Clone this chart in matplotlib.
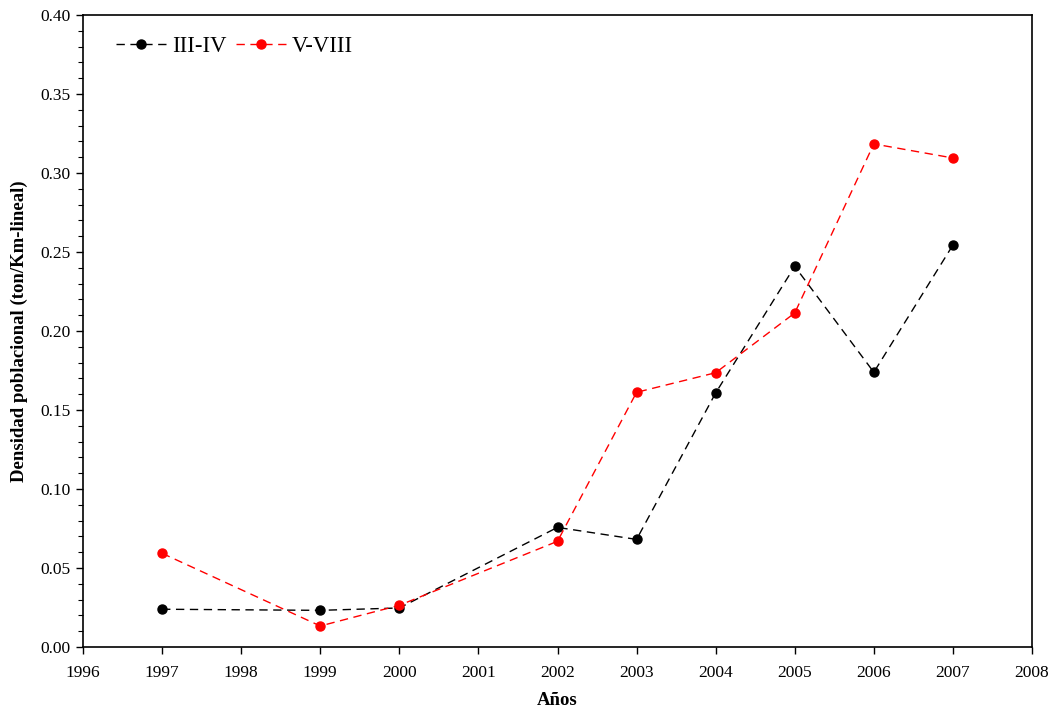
import matplotlib
matplotlib.use("Agg")
import matplotlib.pyplot as plt
from matplotlib.ticker import MultipleLocator

years_34 = [1997, 1999, 2000, 2002, 2003, 2004, 2005, 2006, 2007]
dens_34 = [0.0239, 0.0232, 0.0247, 0.0757, 0.0681, 0.1608, 0.2409, 0.1739, 0.2544]
years_58 = [1997, 1999, 2000, 2002, 2003, 2004, 2005, 2006, 2007]
dens_58 = [0.0593, 0.0133, 0.0264, 0.0669, 0.1612, 0.1736, 0.2114, 0.3184, 0.3095]
xticks = list(range(1996, 2009))
yticks = [0.00, 0.05, 0.10, 0.15, 0.20, 0.25, 0.30, 0.35, 0.40]

plt.rcParams['font.family'] = ['Liberation Serif', 'DejaVu Serif']

fig = plt.figure(figsize=(10.49, 7.13), dpi=100)
ax = fig.add_axes([83/1049, 1-647/713, (1032-83)/1049, (647-15)/713])

ax.plot(years_34, dens_34, color='black', linestyle=(0, (6, 4)), linewidth=1,
        marker='o', markersize=6.5, label='III-IV')
ax.plot(years_58, dens_58, color='red', linestyle=(0, (6, 4)), linewidth=1,
        marker='o', markersize=6.5, label='V-VIII')

ax.set_xlim(1996, 2008)
ax.set_ylim(0, 0.40)
ax.set_xticks(xticks)
ax.set_xticklabels([str(x) for x in xticks])
ax.set_yticks(yticks)
ax.set_yticklabels([f"{v:.2f}" for v in yticks])
ax.yaxis.set_minor_locator(MultipleLocator(0.01))
ax.tick_params(axis='both', which='major', direction='out', length=5, width=1,
               labelsize=12.5, top=False, right=False)
ax.tick_params(axis='x', which='major', pad=8)
ax.tick_params(axis='y', which='major', pad=4)
ax.tick_params(axis='y', which='minor', direction='out', length=3.5, width=0.8)
for s in ax.spines.values():
    s.set_linewidth(1.2)

ax.set_xlabel('Años', fontsize=13.5, fontweight='bold', labelpad=8)
ax.set_ylabel('Densidad poblacional (ton/Km-lineal)', fontsize=13.5, fontweight='bold', labelpad=9)

ax.legend(loc='upper left', frameon=False, ncol=2, fontsize=16.3, handlelength=2.2,
          handletextpad=0.25, columnspacing=0.45, borderpad=0, borderaxespad=0,
          bbox_to_anchor=(0.035, 0.967))

fig.savefig('out.png', dpi=100)
